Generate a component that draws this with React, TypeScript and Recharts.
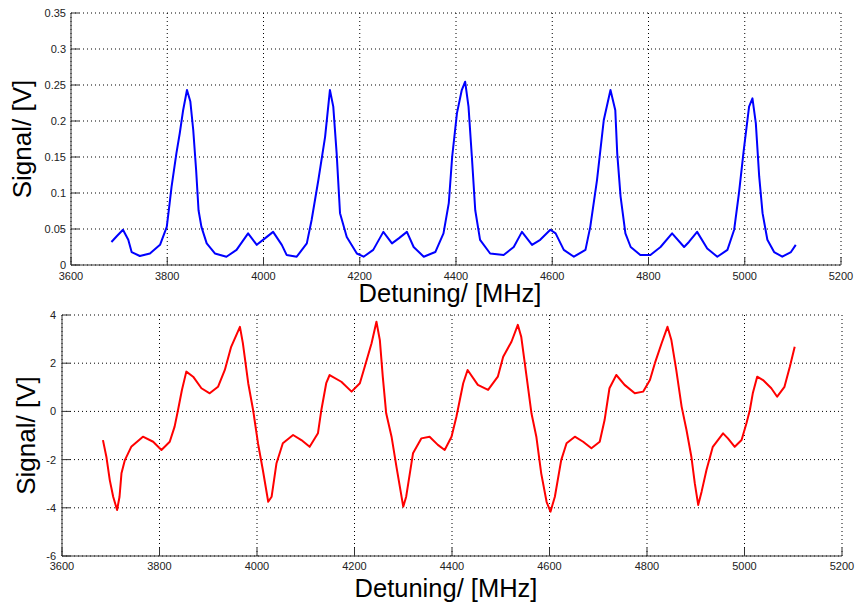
import { LineChart, Line, XAxis, YAxis, CartesianGrid, Label } from "recharts";

const xTicks = [3600, 3800, 4000, 4200, 4400, 4600, 4800, 5000, 5200];
const topYTicks = [0, 0.05, 0.1, 0.15, 0.2, 0.25, 0.3, 0.35];
const bottomYTicks = [-6, -4, -2, 0, 2, 4];

// transmission signal (blue)
const topFreq = [
  3684, 3695, 3708, 3719, 3726, 3743, 3764, 3785, 3799, 3805, 3809, 3819, 3826, 3833, 3841,
  3848, 3854, 3860, 3865, 3871, 3882, 3899, 3923, 3944, 3968, 3986, 4003, 4020, 4038, 4048,
  4069, 4090, 4100, 4114, 4128, 4138, 4145, 4152, 4159, 4173, 4194, 4208, 4228, 4249, 4267,
  4281, 4298, 4312, 4333, 4357, 4374, 4385, 4392, 4402, 4412, 4419, 4426, 4433, 4440, 4450,
  4471, 4499, 4520, 4537, 4558, 4575, 4596, 4607, 4624, 4645, 4669, 4679, 4693, 4707, 4721,
  4731, 4735, 4742, 4752, 4763, 4783, 4804, 4825, 4849, 4874, 4884, 4901, 4922, 4943, 4964,
  4978, 4988, 4998, 5009, 5016, 5023, 5030, 5037, 5047, 5061, 5078, 5096, 5106,
];
const topSignal = [
  0.032, 0.04, 0.049, 0.035, 0.018, 0.0125, 0.016, 0.028, 0.053, 0.086, 0.109, 0.155, 0.183, 0.215, 0.243,
  0.227, 0.1875, 0.132, 0.076, 0.053, 0.03, 0.016, 0.0115, 0.021, 0.044, 0.028, 0.037, 0.046, 0.028, 0.014,
  0.0115, 0.03, 0.0625, 0.118, 0.178, 0.243, 0.22, 0.155, 0.072, 0.039, 0.016, 0.0115, 0.021, 0.046, 0.03,
  0.037, 0.046, 0.025, 0.0115, 0.018, 0.044, 0.086, 0.15, 0.211, 0.243, 0.2546, 0.22, 0.15, 0.076, 0.035,
  0.016, 0.014, 0.025, 0.046, 0.028, 0.035, 0.049, 0.044, 0.021, 0.0115, 0.021, 0.053, 0.118, 0.201, 0.243,
  0.215, 0.155, 0.095, 0.044, 0.025, 0.014, 0.014, 0.025, 0.044, 0.025, 0.032, 0.046, 0.023, 0.0115, 0.021,
  0.049, 0.1, 0.16, 0.22, 0.2315, 0.197, 0.123, 0.072, 0.035, 0.018, 0.0115, 0.018, 0.028,
];

// error signal (red)
const bottomFreq = [
  3684, 3691, 3698, 3705, 3713, 3718, 3722, 3729, 3742, 3766, 3787, 3804, 3821, 3831, 3838,
  3846, 3855, 3869, 3886, 3903, 3920, 3934, 3947, 3965, 3971, 3982, 3992, 4002, 4012, 4023,
  4030, 4040, 4053, 4074, 4091, 4108, 4125, 4132, 4142, 4149, 4173, 4194, 4211, 4224, 4235,
  4245, 4252, 4258, 4265, 4276, 4286, 4300, 4306, 4320, 4337, 4354, 4371, 4385, 4399, 4409,
  4423, 4432, 4453, 4474, 4494, 4505, 4522, 4535, 4542, 4553, 4563, 4573, 4583, 4594, 4602,
  4611, 4624, 4635, 4652, 4669, 4686, 4703, 4713, 4723, 4737, 4754, 4775, 4792, 4806, 4816,
  4830, 4842, 4850, 4860, 4871, 4881, 4891, 4898, 4905, 4912, 4922, 4935, 4956, 4966, 4980,
  4994, 5004, 5011, 5017, 5026, 5038, 5055, 5067, 5082, 5093, 5103,
];
const bottomSignal = [
  -1.19, -1.88, -2.85, -3.54, -4.09, -3.54, -2.57, -2.02, -1.47, -1.05, -1.26, -1.6, -1.26, -0.63, 0.06,
  0.89, 1.65, 1.44, 0.96, 0.75, 1.02, 1.72, 2.68, 3.51, 2.83, 1.17, 0.06, -1.32, -2.43, -3.75,
  -3.54, -2.15, -1.32, -0.98, -1.19, -1.47, -0.91, 0.06, 1.17, 1.51, 1.23, 0.82, 1.17, 2.06, 2.83,
  3.72, 2.96, 1.44, -0.08, -1.05, -2.29, -3.95, -3.54, -1.74, -1.12, -1.05, -1.39, -1.6, -1.05, -0.22,
  1.17, 1.72, 1.1, 0.89, 1.44, 2.27, 2.89, 3.59, 3.1, 1.44, -0.08, -1.05, -2.57, -3.75, -4.16,
  -3.54, -2.02, -1.32, -1.05, -1.26, -1.53, -1.26, -0.36, 0.96, 1.51, 1.1, 0.75, 0.82, 1.3, 1.99,
  2.83, 3.51, 2.96, 1.72, 0.2, -0.77, -1.88, -2.98, -3.88, -3.33, -2.43, -1.47, -0.91, -1.12, -1.47,
  -1.19, -0.49, 0.06, 0.75, 1.44, 1.3, 0.96, 0.61, 1.02, 1.85, 2.68,
];

const FONT = "'Liberation Sans', Arial, Helvetica, sans-serif";
const AXIS = "#333";
const tickStyle = { fill: "#222", fontSize: 11, fontFamily: FONT };
const noLabel = () => <g />;

interface PanelProps {
  freq: number[];
  signal: number[];
  color: string;
  yDomain: [number, number];
  yTicks: number[];
  height: number;
  top: number;
  right: number;
  yWidth: number;
  xHeight: number;
  xTickMargin: number;
  yTickMargin: number;
  xLabelDy: number;
  yLabelX: number;
}

function Panel(p: PanelProps) {
  const data = p.freq.map((f, i) => ({ f, v: p.signal[i] }));
  return (
    <LineChart width={859} height={p.height} data={data}
      margin={{ top: p.top, right: p.right, left: 0, bottom: 0 }}>
      <CartesianGrid stroke="#000" strokeDasharray="1 3" strokeWidth={1} />
      <XAxis xAxisId={0} dataKey="f" type="number" domain={[3600, 5200]} ticks={xTicks}
        height={p.xHeight} tickSize={-8} tickMargin={p.xTickMargin} tick={tickStyle}
        stroke={AXIS} interval={0}>
        <Label content={(lp: any) => {
          const vb = lp.viewBox || {};
          return (
            <text x={vb.x + vb.width / 2 - 6} y={vb.y + p.xLabelDy} textAnchor="middle"
              fontSize={25.5} fontFamily={FONT} fill="#000">Detuning/ [MHz]</text>
          );
        }} />
      </XAxis>
      <XAxis xAxisId="top" orientation="top" dataKey="f" type="number" domain={[3600, 5200]}
        ticks={xTicks} height={0} tickSize={-8} tick={noLabel} stroke={AXIS} interval={0} />
      <YAxis yAxisId={0} type="number" domain={p.yDomain} ticks={p.yTicks} width={p.yWidth}
        tickSize={-8} tickMargin={p.yTickMargin} tick={tickStyle} stroke={AXIS} interval={0}>
        <Label content={(lp: any) => {
          const vb = lp.viewBox || {};
          const cy = vb.y + vb.height / 2;
          return (
            <text x={p.yLabelX} y={cy} textAnchor="middle" transform={`rotate(-90, ${p.yLabelX}, ${cy})`}
              fontSize={26} fontFamily={FONT} fill="#000">Signal/ [V]</text>
          );
        }} />
      </YAxis>
      <YAxis yAxisId="right" orientation="right" type="number" domain={p.yDomain} ticks={p.yTicks}
        width={0} tickSize={-8} tick={noLabel} stroke={AXIS} interval={0} />
      <Line xAxisId={0} yAxisId={0} type="linear" dataKey="v" stroke={p.color} strokeWidth={2}
        strokeLinejoin="round" dot={false} isAnimationActive={false} />
    </LineChart>
  );
}

export default function App() {
  return (
    <div style={{ position: "absolute", left: 0, top: 0, width: 859, height: 605, background: "#fff" }}>
      <Panel freq={topFreq} signal={topSignal} color="#0000ff" yDomain={[0, 0.35]} yTicks={topYTicks}
        height={308} top={13} right={18} yWidth={71} xHeight={43} xTickMargin={15} yTickMargin={13}
        xLabelDy={37} yLabelX={31} />
      <Panel freq={bottomFreq} signal={bottomSignal} color="#ff0000" yDomain={[-6, 4]} yTicks={bottomYTicks}
        height={297} top={7} right={17} yWidth={62} xHeight={49} xTickMargin={14} yTickMargin={14}
        xLabelDy={40.7} yLabelX={35} />
    </div>
  );
}
